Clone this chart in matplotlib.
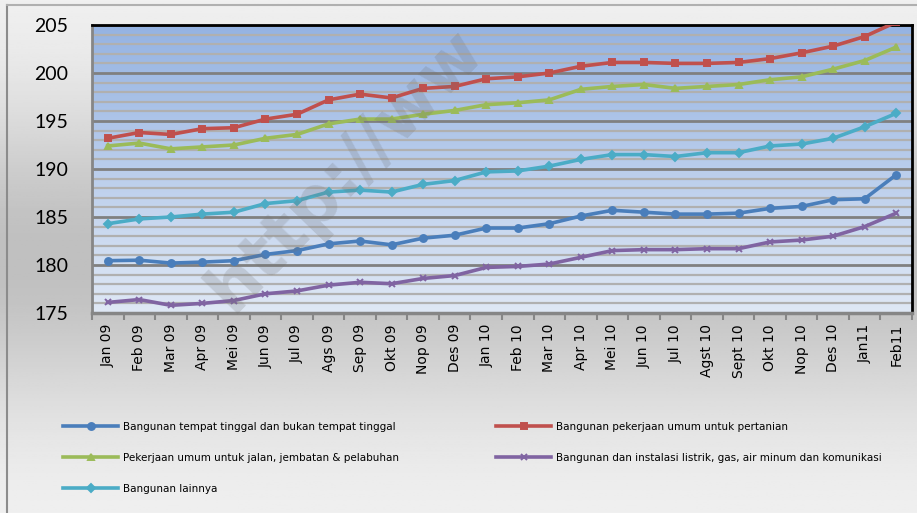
import numpy as np
import matplotlib
matplotlib.use("Agg")
from matplotlib import pyplot as plt
from matplotlib.colors import LinearSegmentedColormap

# bulan (Jan 2009 - Feb 2011)
bulan = ["Jan 09", "Feb 09", "Mar 09", "Apr 09", "Mei 09", "Jun 09", "Jul 09",
         "Ags 09", "Sep 09", "Okt 09", "Nop 09", "Des 09", "Jan 10", "Feb 10",
         "Mar 10", "Apr 10", "Mei 10", "Jun 10", "Jul 10", "Agst 10", "Sept 10",
         "Okt 10", "Nop 10", "Des 10", "Jan11", "Feb11"]

tempat_tinggal = [180.45, 180.5, 180.2, 180.3, 180.45, 181.1, 181.5, 182.2, 182.5,
                  182.1, 182.8, 183.1, 183.85, 183.85, 184.3, 185.1, 185.7, 185.5,
                  185.3, 185.3, 185.4, 185.9, 186.1, 186.8, 186.9, 189.4]
pertanian = [193.2, 193.8, 193.6, 194.2, 194.3, 195.2, 195.7, 197.2, 197.8,
             197.4, 198.4, 198.6, 199.4, 199.6, 200.0, 200.7, 201.1, 201.1,
             201.0, 201.0, 201.1, 201.5, 202.1, 202.8, 203.8, 205.3]
jalan = [192.4, 192.7, 192.1, 192.3, 192.5, 193.2, 193.6, 194.7, 195.2,
         195.2, 195.7, 196.1, 196.7, 196.9, 197.2, 198.3, 198.6, 198.8,
         198.4, 198.6, 198.8, 199.3, 199.6, 200.4, 201.3, 202.7]
listrik = [176.1, 176.4, 175.8, 176.0, 176.3, 177.0, 177.3, 177.9, 178.2,
           178.05, 178.6, 178.9, 179.75, 179.85, 180.1, 180.8, 181.5, 181.6,
           181.6, 181.7, 181.7, 182.4, 182.6, 183.0, 184.0, 185.4]
lainnya = [184.3, 184.8, 185.0, 185.3, 185.5, 186.4, 186.7, 187.6, 187.8,
           187.6, 188.4, 188.8, 189.7, 189.8, 190.3, 191.0, 191.5, 191.5,
           191.3, 191.7, 191.7, 192.4, 192.6, 193.2, 194.4, 195.8]

fig = plt.figure(figsize=(9.17, 5.13), dpi=100)

# latar belakang chart: gradasi abu-abu vertikal
bg = fig.add_axes([0, 0, 1, 1], zorder=-10)
t = np.linspace(0, 1, 300)
shade = 0.95 - 0.20 * np.exp(-((t - 0.5) / 0.3) ** 2)
bg.imshow(np.repeat(shade[:, None], 2, axis=1), cmap="gray", vmin=0, vmax=1,
          aspect="auto", extent=[0, 1, 0, 1], origin="upper")
bg.plot([7 / 917, 7 / 917], [0, 1 - 5 / 513], color="#8c8c8c", lw=1.5)
bg.plot([7 / 917, 1], [1 - 5 / 513, 1 - 5 / 513], color="#b0b0b0", lw=1.5)
bg.set_xlim(0, 1)
bg.set_ylim(0, 1)
bg.axis("off")

ax = fig.add_axes([92 / 917, 1 - 313 / 513, 820 / 917, 288 / 513])
x = np.arange(len(bulan))

# gradasi biru pada plot area
blue = LinearSegmentedColormap.from_list("plot_bg", ["#dfe8f5", "#95b3e2"])
ax.imshow(np.linspace(0, 1, 200)[:, None], cmap=blue, aspect="auto",
          extent=[-0.5, 25.5, 175, 205], origin="lower", zorder=0)

ax.set_xlim(-0.5, len(bulan) - 0.5)
ax.set_ylim(175, 205)
ax.set_yticks(range(175, 206, 5))
ax.set_yticks(range(175, 206, 1), minor=True)
ax.grid(which="minor", axis="y", color="#b0b0b0", lw=1.6, zorder=1)
ax.grid(which="major", axis="y", color="#808080", lw=2.0, zorder=1)

series = [
    (tempat_tinggal, "#4a7ebb", "o", "Bangunan tempat tinggal dan bukan tempat tinggal"),
    (jalan, "#9bbb59", "^", "Pekerjaan umum untuk jalan, jembatan & pelabuhan"),
    (lainnya, "#4bacc6", "D", "Bangunan lainnya"),
    (pertanian, "#c0504d", "s", "Bangunan pekerjaan umum untuk pertanian"),
    (listrik, "#8064a2", "x", "Bangunan dan instalasi listrik, gas, air minum dan komunikasi"),
]
lines = []
for vals, col, mk, lab in series:
    ms = 5 if mk != "D" else 4.3
    ln, = ax.plot(x, vals, color=col, lw=2.6, marker=mk, ms=ms, mew=1.4,
                  mfc=col, mec=col, label=lab, zorder=3, clip_on=True)
    lines.append(ln)

ax.set_xticks(x)
ax.set_xticklabels(bulan, rotation=90, fontsize=10, family="DejaVu Sans")
ax.set_xticks(np.arange(-0.5, len(bulan), 1), minor=True)
ax.tick_params(axis="x", which="major", length=0, pad=8)
ax.tick_params(axis="x", which="minor", length=5, width=1.5, color="#868686")
ax.tick_params(axis="y", which="both", length=0, pad=17)
for lab in ax.get_yticklabels():
    lab.set_family("Lato")
    lab.set_fontsize(14)

ax.spines["left"].set_color("#868686")
ax.spines["bottom"].set_color("#868686")
ax.spines["left"].set_linewidth(2)
ax.spines["bottom"].set_linewidth(2.5)
ax.spines["top"].set_color("black")
ax.spines["right"].set_color("black")
ax.spines["top"].set_linewidth(2)
ax.spines["right"].set_linewidth(2)

# watermark
fig.text(232 / 917, 1 - 314 / 513, "http://ww", fontsize=49, fontweight="bold",
         color="#707070", alpha=0.22, rotation=46, rotation_mode="anchor",
         ha="left", va="baseline", family="DejaVu Sans", zorder=20)

leg_kw = dict(loc="upper left", frameon=False, fontsize=7.5, handlelength=5.3,
              handletextpad=0.45, labelspacing=2.0, borderpad=0, borderaxespad=0,
              numpoints=1, markerscale=1.0)
fig.legend(lines[:3], [s[3] for s in series[:3]],
           bbox_to_anchor=(63 / 917, 1 - 422 / 513), **leg_kw)
fig.legend(lines[3:], [s[3] for s in series[3:]],
           bbox_to_anchor=(496 / 917, 1 - 422 / 513), **leg_kw)

fig.savefig("out.png", dpi=100)
